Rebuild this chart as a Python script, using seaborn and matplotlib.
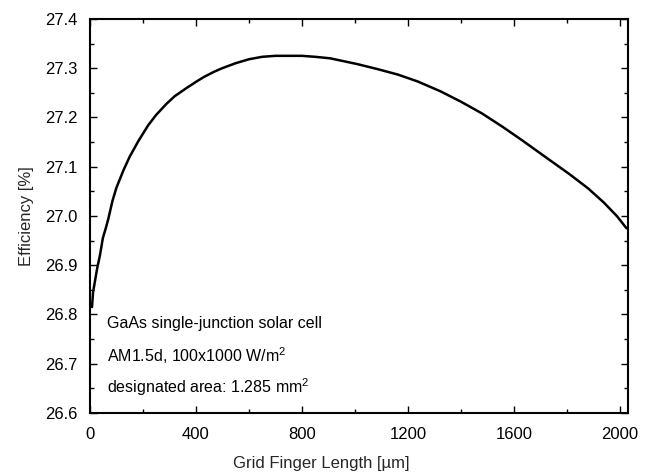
import matplotlib
matplotlib.use("Agg")
import matplotlib.pyplot as plt
from matplotlib.ticker import MultipleLocator
import seaborn as sns
import pandas as pd

finger_length = [8, 12, 20, 28, 38, 49, 60, 70, 85, 100, 127, 150, 183, 220, 250,
                 288, 320, 363, 400, 430, 470, 500, 550, 600, 650, 700, 750, 800,
                 850, 906, 950, 1011, 1086, 1162, 1237, 1323, 1400, 1480, 1560,
                 1630, 1700, 1760, 1812, 1880, 1940, 1990, 2025]
efficiency = [26.815, 26.845, 26.87, 26.895, 26.92, 26.955, 26.975, 26.995, 27.03,
              27.057, 27.093, 27.12, 27.152, 27.184, 27.205, 27.227, 27.243, 27.259,
              27.272, 27.282, 27.293, 27.3, 27.31, 27.318, 27.323, 27.325, 27.325,
              27.325, 27.323, 27.32, 27.315, 27.308, 27.298, 27.287, 27.273, 27.253,
              27.232, 27.208, 27.18, 27.154, 27.127, 27.104, 27.084, 27.056, 27.027,
              26.999, 26.975]

x_ticks = [0, 400, 800, 1200, 1600, 2000]
y_ticks = [26.6, 26.7, 26.8, 26.9, 27.0, 27.1, 27.2, 27.3, 27.4]
notes = ["GaAs single-junction solar cell",
         "AM1.5d, 100x1000 W/m$^2$",
         "designated area: 1.285 mm$^2$"]

df = pd.DataFrame({"Grid Finger Length": finger_length, "Efficiency": efficiency})

sns.set_style("ticks")
plt.rcParams['font.family'] = ['Liberation Sans', 'DejaVu Sans']
plt.rcParams['mathtext.fontset'] = 'custom'
plt.rcParams['mathtext.rm'] = 'Liberation Sans'

fig = plt.figure(figsize=(6.56, 4.72), dpi=100)
ax = fig.add_axes([0.137, 0.125, 0.820, 0.835])

sns.lineplot(data=df, x="Grid Finger Length", y="Efficiency", ax=ax,
             color="black", linewidth=1.8, estimator=None, sort=False)

ax.set_xlim(0, 2030)
ax.set_ylim(26.6, 27.4)
ax.set_xticks(x_ticks)
ax.set_xticklabels([str(t) for t in x_ticks])
ax.set_yticks(y_ticks)
ax.set_yticklabels([f"{t:.1f}" for t in y_ticks])
ax.xaxis.set_minor_locator(MultipleLocator(200))
ax.yaxis.set_minor_locator(MultipleLocator(0.05))

ax.tick_params(which='both', direction='in', top=True, right=True,
               colors='black', width=1.0)
ax.tick_params(which='major', length=5, labelsize=12, pad=9)
ax.tick_params(which='minor', length=3)
ax.tick_params(axis='x', which='major', pad=10)

for s in ax.spines.values():
    s.set_visible(True)
    s.set_linewidth(1.5)
    s.set_color('black')

ax.set_xlabel("Grid Finger Length [\u00b5m]", fontsize=12)
ax.set_ylabel("Efficiency [%]", fontsize=12, labelpad=8)
ax.xaxis.set_label_coords(0.43, -0.108)

ys = [0.228, 0.146, 0.066]
for t, yy in zip(notes, ys):
    ax.text(0.032, yy, t, transform=ax.transAxes, fontsize=11.5,
            va='center', ha='left', color='black')

fig.savefig("out.png", dpi=100)
